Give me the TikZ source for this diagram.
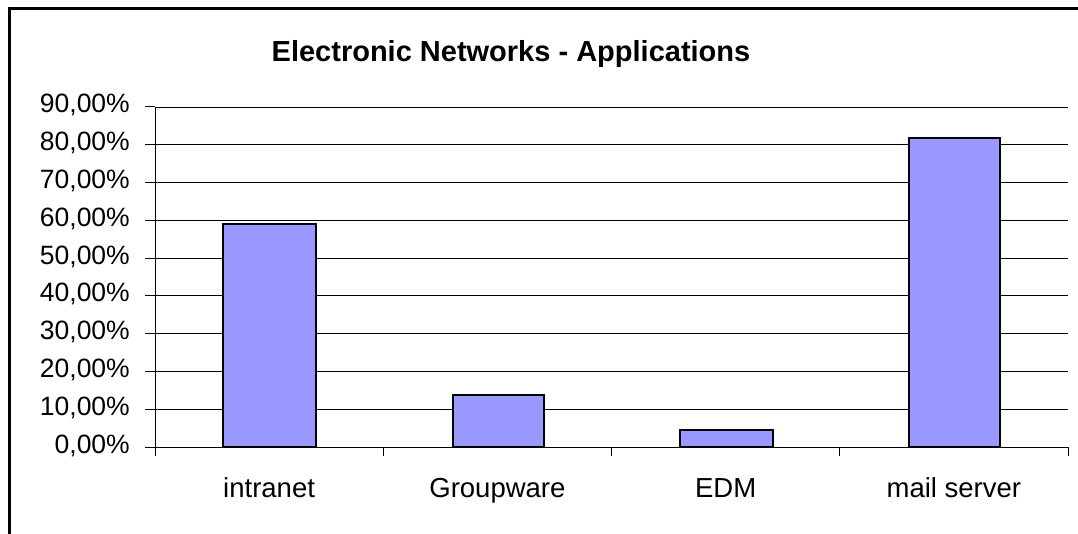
\documentclass[tikz,border=0pt]{standalone}
\usepackage{fontspec}
\setmainfont{Liberation Sans}
\usetikzlibrary{positioning}

\begin{document}
\begin{tikzpicture}[%
    x=1pt, y=-1pt,
    grid/.style={black, line width=0.9pt},
    axis/.style={black, line width=1pt},
    bar/.style={draw=black, fill=barblue, line width=2pt},
    ticklabel/.style={anchor=base east, inner sep=0pt, font=\fontsize{26.5}{26.5}\selectfont},
    catlabel/.style={anchor=base, inner sep=0pt, font=\fontsize{27.5}{27.5}\selectfont},
    title/.style={anchor=base, inner sep=0pt, font=\fontsize{29}{29}\selectfont\bfseries},
]
\definecolor{barblue}{RGB}{153,153,255}
\useasboundingbox (0,0) rectangle (1078,534);
\clip (0,0) rectangle (1078,534);

% Frame
\draw[line width=2.6pt] (9.5,1200) -- (9.5,8.5) -- (1200,8.5);

% Title
\node[title] (charttitle) at (511,62) {Electronic Networks - Applications};

% Grid lines
\foreach \v in {1,...,9}
    \draw[grid] (155,447-37.78*\v) -- (1068,447-37.78*\v);

% Bars
\draw[bar] (222.5,447) rectangle (315.5,224.5);
\draw[bar] (452.5,447) rectangle (543.5,395);
\draw[bar] (679.5,447) rectangle (772.5,429.5);
\draw[bar] (909,447) rectangle (1000,138);

% Axes
\draw[axis] (155,447) -- (155,107);
\draw[axis] (155,447) -- (1068,447);
\foreach \v in {0,...,9}
    \draw[axis] (145,447-37.78*\v) -- (155,447-37.78*\v);
\foreach \c in {0,...,4}
    \draw[axis] (155+228.25*\c,447) -- (155+228.25*\c,456);

% Tick labels
\node[ticklabel] (t0) at (130,453) {0,00\%};
\node[ticklabel] (t1) at (130,415.2) {10,00\%};
\node[ticklabel] (t2) at (130,377.4) {20,00\%};
\node[ticklabel] (t3) at (130,339.7) {30,00\%};
\node[ticklabel] (t4) at (130,301.9) {40,00\%};
\node[ticklabel] (t5) at (130,264.1) {50,00\%};
\node[ticklabel] (t6) at (130,226.3) {60,00\%};
\node[ticklabel] (t7) at (130,188.5) {70,00\%};
\node[ticklabel] (t8) at (130,150.8) {80,00\%};
\node[ticklabel] (t9) at (130,113) {90,00\%};

% Category labels
\node[catlabel] (intranet)   at (269.1,497) {intranet};
\node[catlabel] (groupware)  at (497.4,497) {Groupware};
\node[catlabel] (edm)        at (725.6,497) {EDM};
\node[catlabel] (mailserver) at (953.9,497) {mail server};

\end{tikzpicture}
\end{document}
